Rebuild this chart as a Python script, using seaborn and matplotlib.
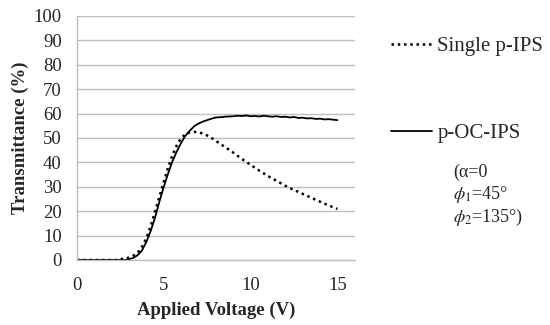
import matplotlib
matplotlib.use("Agg")
import matplotlib.pyplot as plt
import numpy as np
import pandas as pd
import seaborn as sns

voltage = [i * 0.25 for i in range(61)]

single_ips = [0, 0, 0, 0, 0, 0, 0, 0, 0, 0,
              0.3, 0.6, 1.0, 1.8, 3.0, 5.5, 9.0, 14, 20, 26,
              32, 38, 43, 47, 50, 51.5, 52.3, 52.5, 52.3, 51.8,
              51.0, 50.0, 48.8, 47.6, 46.4, 45.2, 44.0, 42.7, 41.4, 40.2,
              39.0, 37.8, 36.6, 35.5, 34.4, 33.4, 32.4, 31.4, 30.4, 29.5,
              28.7, 27.9, 27.1, 26.3, 25.5, 24.7, 23.9, 23.1, 22.4, 21.6,
              20.9]

oc_ips = [0, 0, 0, 0, 0, 0, 0, 0, 0, 0,
          0, 0, 0.3, 0.9, 2.0, 4.0, 7.5, 12, 17.5, 24,
          30, 35.5, 40.5, 44.5, 48, 51, 53, 54.8, 55.9, 56.7,
          57.3, 57.9, 58.4, 58.5, 58.7, 58.8, 58.9, 59.1, 59.0, 59.2,
          58.9, 59.0, 58.8, 59.1, 58.9, 58.7, 58.9, 58.6, 58.7, 58.4,
          58.6, 58.2, 58.3, 58.0, 58.1, 57.8, 57.9, 57.6, 57.7, 57.5,
          57.3]

series_names = ["Single p-IPS", "p-OC-IPS"]

df = pd.DataFrame({
    "Voltage": voltage * 2,
    "Transmittance": single_ips + oc_ips,
    "Series": [series_names[0]] * len(voltage) + [series_names[1]] * len(voltage),
})

sns.set_style("white")
plt.rcParams["font.family"] = ["Liberation Serif", "DejaVu Serif"]
plt.rcParams["mathtext.fontset"] = "stix"

fig = plt.figure(figsize=(5.5, 3.25), dpi=100)
ax = fig.add_axes([0.14, 0.2, 0.505, 0.751])

ax.yaxis.grid(True, color="#bfbfbf", linewidth=1)
ax.set_axisbelow(True)

d1 = df[df.Series == series_names[0]]
d2 = df[df.Series == series_names[1]]
sns.lineplot(x="Voltage", y="Transmittance", data=d2, color="black",
             linewidth=1.3, ax=ax, label=series_names[1])
sns.lineplot(x="Voltage", y="Transmittance", data=d1, color="black",
             linewidth=1.8, linestyle=(0, (1, 1.5)), ax=ax, label=series_names[0])

ax.set_xlim(0, 16)
ax.set_ylim(0, 100)
ax.set_xticks([0, 5, 10, 15])
ax.set_yticks(range(0, 101, 10))
ax.tick_params(axis="x", direction="out", length=5, color="#bfbfbf", labelsize=13.5, pad=7)
ax.tick_params(axis="y", length=0, labelsize=13.5, pad=11)
for s in ["top", "right"]:
    ax.spines[s].set_visible(False)
for s in ["left", "bottom"]:
    ax.spines[s].set_color("#bfbfbf")
    ax.spines[s].set_linewidth(1)

ax.set_xlabel("Applied Voltage (V)", fontsize=13.5, fontweight="bold", labelpad=6)
ax.set_ylabel("Transmittance (%)", fontsize=13.5, fontweight="bold", labelpad=3)

handles, labels = ax.get_legend_handles_labels()
h = dict(zip(labels, handles))
leg1 = ax.legend([h[series_names[0]]], [series_names[0]], loc="center left",
                 bbox_to_anchor=(0.676, 0.857), bbox_transform=fig.transFigure,
                 frameon=False, fontsize=15, handlelength=2.0, handletextpad=0.25)
ax.add_artist(leg1)
ax.legend([h[series_names[1]]], [series_names[1]], loc="center left",
          bbox_to_anchor=(0.676, 0.59), bbox_transform=fig.transFigure,
          frameon=False, fontsize=15, handlelength=2.0, handletextpad=0.25)

note = ["(α=0", r"$\phi_{1}$=45°", r"$\phi_{2}$=135°)"]
for i, t in enumerate(note):
    fig.text(0.824, 0.471 - i * 0.07, t, fontsize=13, va="center", ha="left")

plt.savefig("out.png", dpi=100)
